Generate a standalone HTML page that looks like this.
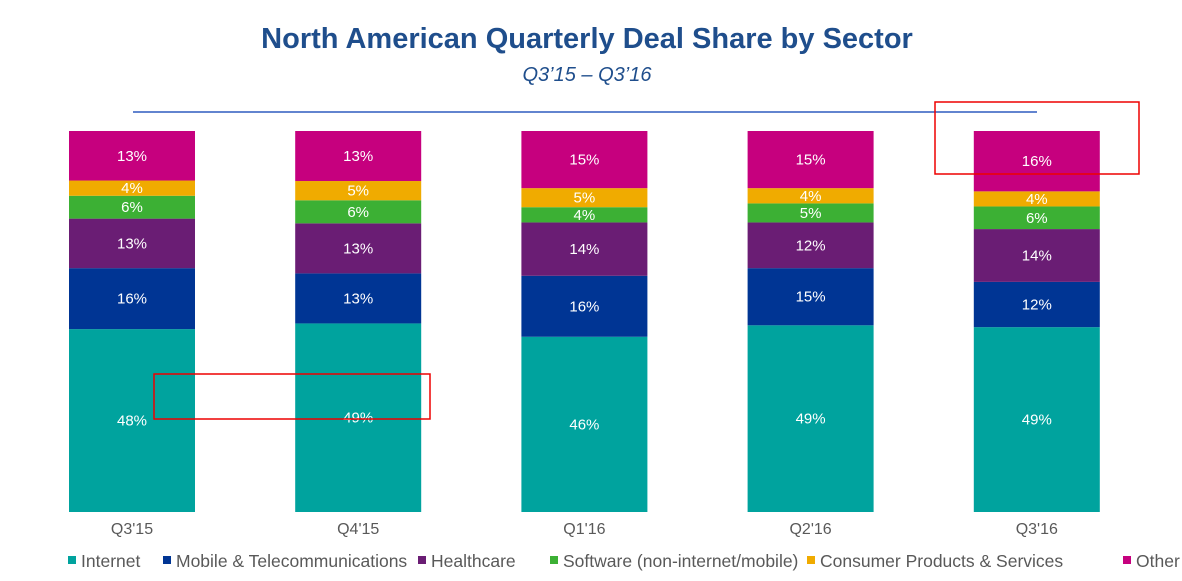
<!DOCTYPE html>
<html><head><meta charset="utf-8"><style>
body{margin:0;background:#fff;font-family:"Liberation Sans",Arial,sans-serif;}
svg text{font-family:"Liberation Sans",Arial,sans-serif;}
</style></head><body>
<svg width="1182" height="576" viewBox="0 0 1182 576">
<text x="587" y="48" text-anchor="middle" font-size="29" font-weight="bold" fill="#1f4e8c">North American Quarterly Deal Share by Sector</text>
<text x="587" y="81" text-anchor="middle" font-size="20" font-style="italic" fill="#1f4e8c">Q3’15 – Q3’16</text>
<line x1="133" y1="112" x2="1037" y2="112" stroke="#2e5bbf" stroke-width="1.5"/>
<g id="bars"></g>
<g id="xlabels"></g>
<g id="legend"></g>
<rect x="935" y="102" width="204" height="72" fill="none" stroke="#e00" stroke-width="1.5"/>
<rect x="154" y="374" width="276" height="45" fill="none" stroke="#e00" stroke-width="1.5"/>
</svg>
<script>
const categories=["Q3'15","Q4'15","Q1'16","Q2'16","Q3'16"];
const seriesNames=["Internet","Mobile & Telecommunications","Healthcare","Software (non-internet/mobile)","Consumer Products & Services","Other"];
const internet=[48,49,46,49,49];
const mobile=[16,13,16,15,12];
const healthcare=[13,13,14,12,14];
const software=[6,6,4,5,6];
const consumer=[4,5,5,4,4];
const other=[13,13,15,15,16];
const series=[internet,mobile,healthcare,software,consumer,other];
const colors=["#00a39e","#003594","#6a1d74","#3cb034","#f0ab00","#c6007e"];
const NS="http://www.w3.org/2000/svg";
const plotL=69,step=226.2,barW=126,plotTop=131,plotBottom=512;
const xPos=i=>plotL+i*step;
const yScale=(v,tot)=>v/tot*(plotBottom-plotTop);
const barsG=document.getElementById('bars');
categories.forEach((c,i)=>{
  const tot=series.reduce((s,a)=>s+a[i],0);
  let y=plotBottom;
  series.forEach((arr,k)=>{
    const h=yScale(arr[i],tot);y-=h;
    const r=document.createElementNS(NS,'rect');
    r.setAttribute('x',xPos(i));r.setAttribute('y',y);r.setAttribute('width',barW);r.setAttribute('height',h);r.setAttribute('fill',colors[k]);
    
    
    barsG.appendChild(r);
    const t=document.createElementNS(NS,'text');
    t.setAttribute('x',xPos(i)+barW/2);t.setAttribute('y',y+h/2+5);t.setAttribute('text-anchor','middle');t.setAttribute('font-size','15');t.setAttribute('fill','#fff');
    t.textContent=arr[i]+'%';
    
    
    barsG.appendChild(t);
  });
  const xl=document.createElementNS(NS,'text');
  xl.setAttribute('x',xPos(i)+barW/2);xl.setAttribute('y',534);xl.setAttribute('text-anchor','middle');xl.setAttribute('font-size','16');xl.setAttribute('fill','#595959');
  xl.textContent=c;
  
  
  document.getElementById('xlabels').appendChild(xl);
});
const legX=[68,163,418,550,807,1123];
const legG=document.getElementById('legend');
seriesNames.forEach((n,k)=>{
  const g=document.createElementNS(NS,'g');
  
  
  const r=document.createElementNS(NS,'rect');
  r.setAttribute('x',legX[k]);r.setAttribute('y',556);r.setAttribute('width',8);r.setAttribute('height',8);r.setAttribute('fill',colors[k]);
  g.appendChild(r);
  const t=document.createElementNS(NS,'text');
  t.setAttribute('x',legX[k]+13);t.setAttribute('y',567);t.setAttribute('font-size','17.5');t.setAttribute('fill','#595959');
  t.textContent=n;g.appendChild(t);
  legG.appendChild(g);
});
</script>
</body></html>
